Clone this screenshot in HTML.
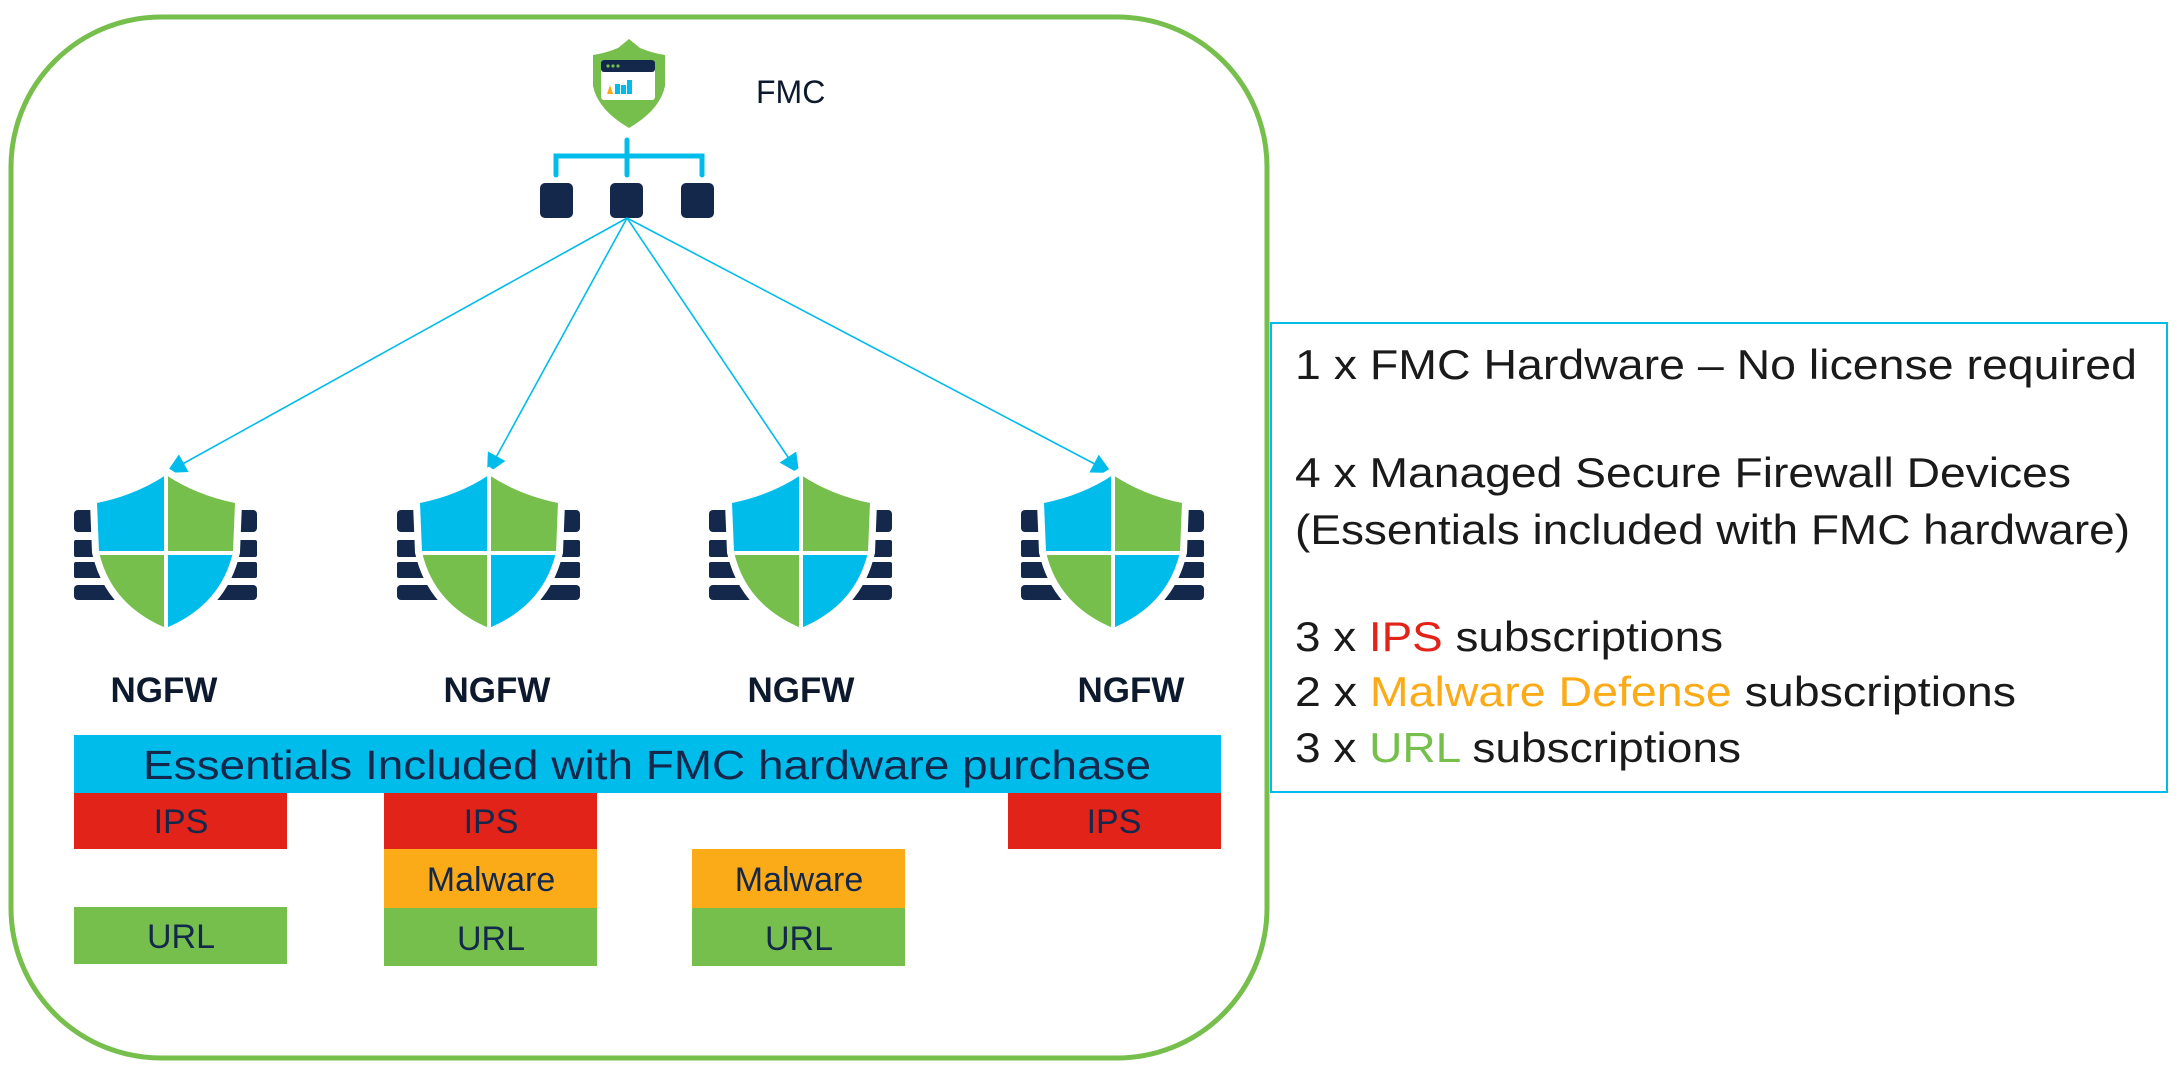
<!DOCTYPE html>
<html><head><meta charset="utf-8"><style>
html,body{margin:0;padding:0;background:#fff;}
svg{display:block;}
text{font-family:"Liberation Sans",sans-serif;}
</style></head><body>
<svg width="2182" height="1068" viewBox="0 0 2182 1068" xmlns="http://www.w3.org/2000/svg">
<defs>
<marker id="ar" viewBox="0 0 10 10" refX="9" refY="5" markerWidth="22" markerHeight="20" markerUnits="userSpaceOnUse" orient="auto"><path d="M0,0 L10,5 L0,10 z" fill="#00bceb"/></marker>
<path id="sh" d="M0,0 Q-30,20 -69,28 L-67,77 Q-55,130 0,153 Q55,130 67,77 L69,28 Q30,20 0,0 Z"/>
<clipPath id="clp"><use href="#sh"/></clipPath>
<g id="fw">
  <rect x="-92" y="35" width="183" height="22" rx="4" fill="#13284b"/>
  <rect x="-92" y="65" width="183" height="17" rx="2" fill="#13284b"/>
  <rect x="-92" y="87" width="183" height="16" rx="2" fill="#13284b"/>
  <rect x="-92" y="110" width="183" height="15" rx="4" fill="#13284b"/>
  <use href="#sh" fill="#fff" stroke="#fff" stroke-width="14"/>
  <g clip-path="url(#clp)">
    <rect x="-80" y="-5" width="80" height="82" fill="#00bceb"/>
    <rect x="0" y="-5" width="80" height="82" fill="#76bf4c"/>
    <rect x="-80" y="77" width="80" height="90" fill="#76bf4c"/>
    <rect x="0" y="77" width="80" height="90" fill="#00bceb"/>
    <line x1="0" y1="-5" x2="0" y2="160" stroke="#fff" stroke-width="4"/>
    <line x1="-80" y1="78" x2="80" y2="78" stroke="#fff" stroke-width="4"/>
  </g>
</g>
</defs>

<rect x="11" y="17" width="1256" height="1041" rx="150" ry="150" fill="none" stroke="#76bf4c" stroke-width="5"/>
<rect x="1271" y="323" width="896" height="469" fill="#fff" stroke="#00bceb" stroke-width="2"/>

<!-- FMC icon -->
<path d="M629,39 L640,48 Q652,53 665,55 L665,86 Q660,110 629,128 Q598,110 593,86 L593,55 Q606,53 618,48 Z" fill="#76bf4c"/>
<rect x="601" y="60" width="54" height="40" rx="3" fill="#fff"/>
<rect x="601" y="60" width="54" height="12" rx="3" fill="#13284b"/>
<circle cx="608" cy="66" r="1.6" fill="#76bf4c"/><circle cx="613" cy="66" r="1.6" fill="#76bf4c"/><circle cx="618" cy="66" r="1.6" fill="#76bf4c"/>
<path d="M607,94 L610,85 L613,94 Z" fill="#fbab18"/>
<rect x="615" y="84" width="5" height="10" fill="#00bceb"/><rect x="621" y="85" width="5" height="9" fill="#00bceb"/><rect x="627" y="80" width="5" height="14" fill="#00bceb"/>
<text x="756" y="103" font-size="32" fill="#0d1a2e">FMC</text>

<!-- hierarchy -->
<g stroke="#00bceb" stroke-width="5" fill="none" stroke-linecap="round">
<line x1="627" y1="140" x2="627" y2="175"/>
<path d="M556,175 V156 H702 V175"/>
</g>
<rect x="540" y="183" width="33" height="35" rx="5" fill="#13284b"/>
<rect x="610" y="183" width="33" height="35" rx="5" fill="#13284b"/>
<rect x="681" y="183" width="33" height="35" rx="5" fill="#13284b"/>

<!-- arrows -->
<g stroke="#00bceb" stroke-width="1.6" marker-end="url(#ar)">
<line x1="627" y1="218" x2="168" y2="472"/>
<line x1="627" y1="218" x2="488" y2="472"/>
<line x1="627" y1="218" x2="798" y2="472"/>
<line x1="627" y1="218" x2="1110" y2="472"/>
</g>

<use href="#fw" x="166" y="475"/>
<use href="#fw" x="489" y="475"/>
<use href="#fw" x="801" y="475"/>
<use href="#fw" x="1113" y="475"/>

<g font-size="35" font-weight="bold" fill="#0d1a2e" text-anchor="middle">
<text x="164" y="702">NGFW</text>
<text x="497" y="702">NGFW</text>
<text x="801" y="702">NGFW</text>
<text x="1131" y="702">NGFW</text>
</g>

<rect x="74" y="735" width="1147" height="58" fill="#00bceb"/>
<text x="143" y="779" font-size="41" fill="#13284b" textLength="1008" lengthAdjust="spacingAndGlyphs">Essentials Included with FMC hardware purchase</text>

<rect x="74" y="793" width="213" height="56" fill="#e2231a"/>
<rect x="384" y="793" width="213" height="56" fill="#e2231a"/>
<rect x="1008" y="793" width="213" height="56" fill="#e2231a"/>
<rect x="384" y="849" width="213" height="59" fill="#fbab18"/>
<rect x="692" y="849" width="213" height="59" fill="#fbab18"/>
<rect x="74" y="907" width="213" height="57" fill="#76bf4c"/>
<rect x="384" y="908" width="213" height="58" fill="#76bf4c"/>
<rect x="692" y="908" width="213" height="58" fill="#76bf4c"/>
<g font-size="34" fill="#13284b" text-anchor="middle">
<text x="181" y="833">IPS</text>
<text x="491" y="833">IPS</text>
<text x="1114" y="833">IPS</text>
<text x="491" y="891">Malware</text>
<text x="799" y="891">Malware</text>
<text x="181" y="948">URL</text>
<text x="491" y="950">URL</text>
<text x="799" y="950">URL</text>
</g>

<g font-size="42" fill="#1a1a1a" lengthAdjust="spacingAndGlyphs">
<text x="1295" y="379" textLength="842" lengthAdjust="spacingAndGlyphs">1 x FMC Hardware – No license required</text>
<text x="1295" y="487" textLength="776" lengthAdjust="spacingAndGlyphs">4 x Managed Secure Firewall Devices</text>
<text x="1295" y="544" textLength="835" lengthAdjust="spacingAndGlyphs">(Essentials included with FMC hardware)</text>
<text x="1295" y="651" textLength="428" lengthAdjust="spacingAndGlyphs">3 x <tspan fill="#e2231a">IPS</tspan> subscriptions</text>
<text x="1295" y="706" textLength="721" lengthAdjust="spacingAndGlyphs">2 x <tspan fill="#fbab18">Malware Defense</tspan> subscriptions</text>
<text x="1295" y="762" textLength="446" lengthAdjust="spacingAndGlyphs">3 x <tspan fill="#76bf4c">URL</tspan> subscriptions</text>
</g>
</svg>
</body></html>
